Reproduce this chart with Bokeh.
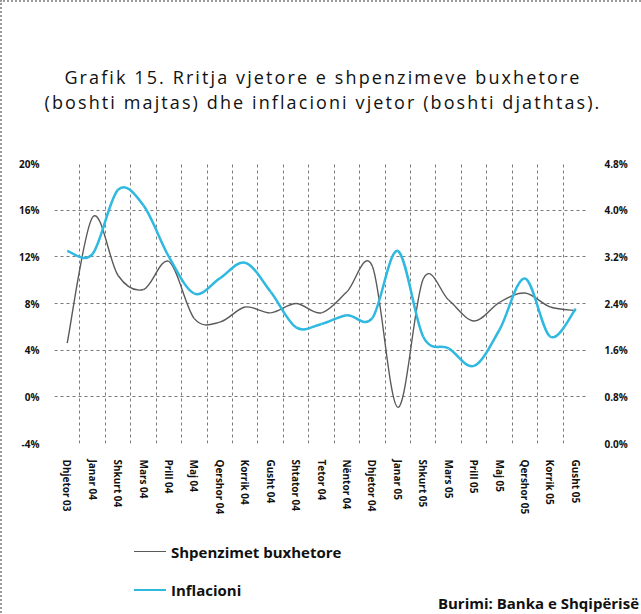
from bokeh.plotting import figure
from bokeh.layouts import column
from bokeh.models import (Range1d, LinearAxis, FixedTicker, PrintfTickFormatter,
                          Div, ColumnDataSource)
from bokeh.embed import file_html
from bokeh.resources import INLINE

# ---------------- data ----------------
months = ["Dhjetor 03", "Janar 04", "Shkurt 04", "Mars 04", "Prill 04", "Maj 04",
          "Qershor 04", "Korrik 04", "Gusht 04", "Shtator 04", "Tetor 04", "Nëntor 04",
          "Dhjetor 04", "Janar 05", "Shkurt 05", "Mars 05", "Prill 05", "Maj 05",
          "Qershor 05", "Korrik 05", "Gusht 05"]
spending = [4.6, 15.4, 10.4, 9.2, 11.6, 6.7, 6.4, 7.7, 7.2, 8.0, 7.2, 9.0,
            11.2, -0.9, 10.1, 8.3, 6.5, 8.1, 8.9, 7.7, 7.4]
inflation = [3.3, 3.25, 4.35, 4.08, 3.2, 2.57, 2.83, 3.1, 2.6, 1.99, 2.05, 2.2,
             2.15, 3.3, 1.83, 1.63, 1.33, 1.95, 2.83, 1.83, 2.31]
left_ticks = [-4, 0, 4, 8, 12, 16, 20]
right_ticks = [0.0, 0.8, 1.6, 2.4, 3.2, 4.0, 4.8]
title_lines = ["Grafik 15. Rritja vjetore e shpenzimeve buxhetore",
               "(boshti majtas) dhe inflacioni vjetor (boshti djathtas)."]
series_names = ["Shpenzimet buxhetore", "Inflacioni"]
series_colors = ["#5a5a5a", "#2fb8e0"]
series_widths = [1.4, 2.5]
source_text = "Burimi: Banka e Shqipërisë"

FONT = "Open Sans"
W = 632
TOP_H, FIG_H, BOT_H = 141, 380, 74

n = len(months)
xc = [i + 0.5 for i in range(n)]


def smooth_segments(xs, ys):
    """Cubic bezier segments through the points (Catmull-Rom style)."""
    x = list(xs); y = list(ys)
    m = len(x)
    d = dict(x0=[], y0=[], x1=[], y1=[], cx0=[], cy0=[], cx1=[], cy1=[])
    for i in range(m - 1):
        i0 = max(i - 1, 0); i3 = min(i + 2, m - 1)
        d["x0"].append(x[i]); d["y0"].append(y[i])
        d["x1"].append(x[i + 1]); d["y1"].append(y[i + 1])
        d["cx0"].append(x[i] + (x[i + 1] - x[i0]) / 6)
        d["cy0"].append(y[i] + (y[i + 1] - y[i0]) / 6)
        d["cx1"].append(x[i + 1] - (x[i3] - x[i]) / 6)
        d["cy1"].append(y[i + 1] - (y[i3] - y[i]) / 6)
    return ColumnDataSource(d)


p = figure(width=W, height=FIG_H, output_backend="svg", toolbar_location=None,
           x_range=Range1d(0, n), y_range=Range1d(left_ticks[0], left_ticks[-1]),
           min_border_left=52, min_border_right=46, min_border_top=10,
           min_border_bottom=90, title=None)
p.outline_line_color = None
p.background_fill_color = "white"
p.border_fill_color = "white"

p.extra_y_ranges = {"infl": Range1d(right_ticks[0], right_ticks[-1])}

# axes
p.xaxis.ticker = FixedTicker(ticks=xc)
p.xaxis.major_label_overrides = {v: lab for v, lab in zip(xc, months)}
p.xaxis.major_label_orientation = "vertical"
p.xaxis.major_label_standoff = 10
p.yaxis.ticker = FixedTicker(ticks=left_ticks)
p.yaxis.formatter = PrintfTickFormatter(format="%d%%")
p.yaxis.major_label_standoff = 9

ry = LinearAxis(y_range_name="infl", ticker=FixedTicker(ticks=right_ticks),
                formatter=PrintfTickFormatter(format="%.1f%%"))
p.add_layout(ry, "right")
ry.major_label_standoff = 10

for ax in [p.xaxis[0], p.yaxis[0], ry]:
    ax.axis_line_color = None
    ax.major_tick_line_color = None
    ax.minor_tick_line_color = None
    ax.major_label_text_font = FONT
    ax.major_label_text_font_style = "bold"
    ax.major_label_text_font_size = "10px"
    ax.major_label_text_color = "#111111"

# grids
p.xgrid.ticker = FixedTicker(ticks=list(range(n + 1)))
for g in [p.xgrid[0], p.ygrid[0]]:
    g.grid_line_color = "#7a7a7a"
    g.grid_line_dash = "3 3"
    g.grid_line_width = 1

# lines
p.bezier(source=smooth_segments(xc, spending), x0="x0", y0="y0", x1="x1", y1="y1",
         cx0="cx0", cy0="cy0", cx1="cx1", cy1="cy1",
         line_color=series_colors[0], line_width=series_widths[0])
p.bezier(source=smooth_segments(xc, inflation), x0="x0", y0="y0", x1="x1", y1="y1",
         cx0="cx0", cy0="cy0", cx1="cx1", cy1="cy1",
         line_color=series_colors[1], line_width=series_widths[1], y_range_name="infl")

# ---------- title block ----------
title_html = (f'<div style="position:relative;width:{W}px;height:{TOP_H}px;'
              f'font-family:\'{FONT}\';font-size:18px;letter-spacing:2.1px;color:#111;">')
for k, t in enumerate(title_lines):
    cy = 70 + 25 * k
    title_html += (f'<div style="position:absolute;left:0;width:{W}px;top:{cy - 12}px;'
                   f'height:24px;line-height:24px;text-align:center;white-space:nowrap;">{t}</div>')
title_html += '</div>'
title_div = Div(text=title_html, width=W, height=TOP_H)

# ---------- legend + source block ----------
bot_html = (f'<div style="position:relative;width:{W}px;height:{BOT_H}px;'
            f'font-family:\'{FONT}\';font-weight:bold;font-size:15px;color:#111;">')
for k, (name, col, lw) in enumerate(zip(series_names, series_colors, series_widths)):
    cy = 14 + 38 * k
    bot_html += (f'<div style="position:absolute;left:127px;top:{cy - lw / 2:.1f}px;width:32px;'
                 f'height:0;border-top:{lw}px solid {col};"></div>')
    bot_html += (f'<div style="position:absolute;left:164px;top:{cy - 10}px;height:20px;'
                 f'line-height:20px;white-space:nowrap;">{name}</div>')
bot_html += (f'<div style="position:absolute;right:0;top:{56}px;height:18px;'
             f'line-height:18px;white-space:nowrap;">{source_text}</div>')
bot_html += '</div>'
bot_div = Div(text=bot_html, width=W, height=BOT_H)

layout = column(title_div, p, bot_div, spacing=0,
                styles={"border-top": "2px dotted #9a9a9a", "border-left": "2px dotted #9a9a9a"})

open("out.html", "w").write(file_html(layout, INLINE))
